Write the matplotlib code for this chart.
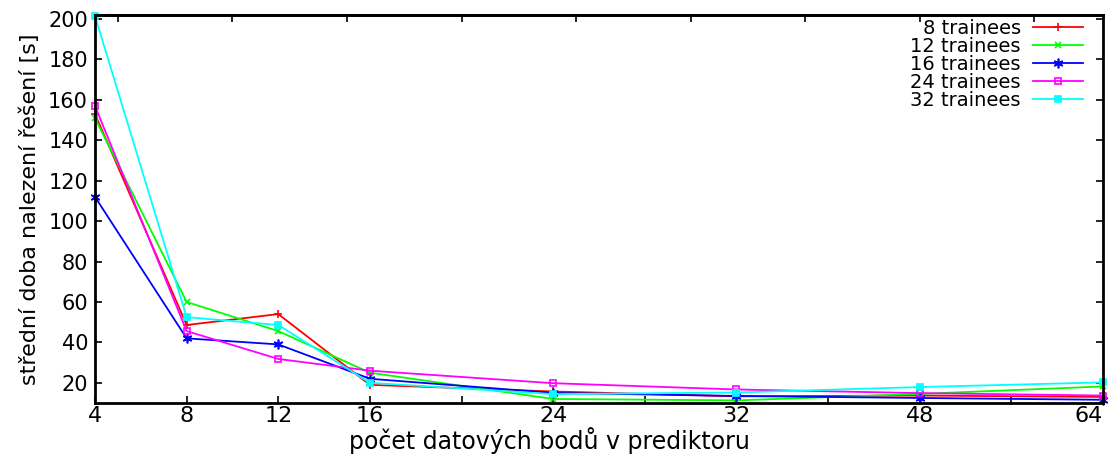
import numpy as np
import matplotlib.pyplot as plt

# pocet datovych bodu v prediktoru (x categories) and their slot on the axis
points = [4, 8, 12, 16, 24, 32, 48, 64]
slots = [0, 1, 2, 3, 5, 7, 9, 11]

# stredni doba nalezeni reseni [s]
t8 = [153, 48.6, 54, 19, 15.7, 13.3, 13.7, 13]
t12 = [151, 60, 45.6, 25, 12, 11.3, 14.5, 18.2]
t16 = [112, 42, 39, 22, 15, 13.5, 12.5, 11.6]
t24 = [157, 45.6, 31.8, 26, 19.8, 16.7, 14.9, 13.7]
t32 = [201.5, 52.5, 48.6, 20, 14.4, 15.2, 17.9, 20.2]

series = [
    ('8 trainees', t8, '#ff0000', '+', 'full', 6),
    ('12 trainees', t12, '#00ff00', 'x', 'full', 5),
    ('16 trainees', t16, '#0000ff', (6, 2, 0), 'full', 7),
    ('24 trainees', t24, '#ff00ff', 's', 'none', 5),
    ('32 trainees', t32, '#00ffff', 's', 'full', 4),
]

plt.rcParams['font.family'] = ['DejaVu Sans']
fig = plt.figure(figsize=(11.11, 4.54), dpi=100)
ax = fig.add_axes([0.0855, 0.1123, 0.9073, 0.8547])

for label, vals, col, mk, fill, ms in series:
    ax.plot(slots, vals, color=col, marker=mk, markersize=ms, fillstyle=fill,
            markeredgewidth=1.2, linewidth=1.3, label=label, clip_on=False)

ax.set_xlim(0, 11)
ax.set_ylim(10, 202)
ax.set_xticks(slots)
ax.set_xticklabels([str(p) for p in points], fontsize=16)
ax.get_xticklabels()[-1].set_ha('right')
ax.set_xticks([4, 6, 8, 10], minor=True)
ax.set_yticks(np.arange(20, 201, 20))
ax.tick_params(axis='y', labelsize=15, pad=5)
ax.tick_params(which='both', direction='in', length=5, width=1.2,
               right=True, top=False)
ax.tick_params(axis='x', pad=2)

# top axis ticks (mirror axis with its own spacing)
ax2 = ax.secondary_xaxis('top')
ax2.set_xticks(np.arange(0.25, 11, 1.25))
ax2.tick_params(direction='in', length=5, width=1.2, labeltop=False)
ax2.spines['top'].set_linewidth(2)

for s in ax.spines.values():
    s.set_linewidth(2)

ax.set_xlabel('počet datových bodů v prediktoru', fontsize=17)
ax.xaxis.set_label_coords(0.451, -0.062)
ax.set_ylabel('střední doba nalezení řešení [s]', fontsize=16, labelpad=6)

leg = ax.legend(loc='upper right', frameon=False, markerfirst=False,
                fontsize=14, handlelength=2.6, labelspacing=-0.05,
                borderaxespad=0.0, handletextpad=0.6,
                bbox_to_anchor=(0.988, 1.01))
for t in leg.get_texts():
    t.set_ha('right')
leg._legend_box.align = 'right'

fig.savefig('out.png', dpi=100)
